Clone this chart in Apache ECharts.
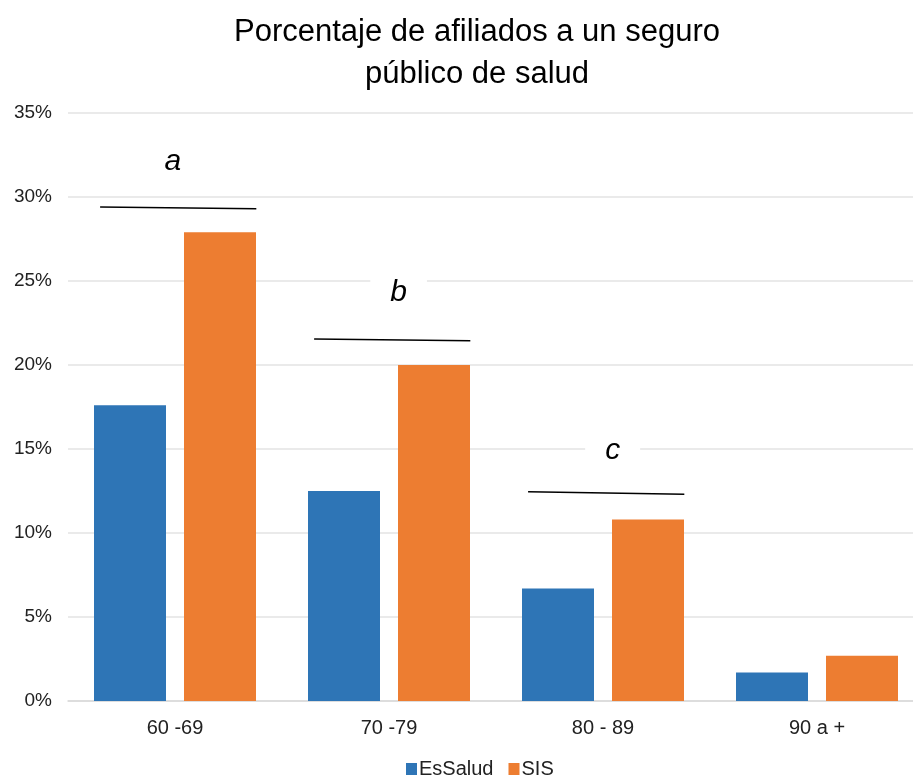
<!DOCTYPE html>
<html><head><meta charset="utf-8">
<script src="https://cdn.jsdelivr.net/npm/echarts@6/dist/echarts.min.js"></script>
<style>html,body{margin:0;padding:0;background:#fff;overflow:hidden}#c{width:924px;height:778px}</style>
</head><body><div id="c"></div>
<script>
var categories = ['60 -69', '70 -79', '80 - 89', '90 a +'];
var esSalud = [17.6, 12.5, 6.7, 1.7];
var sis = [27.9, 20.0, 10.8, 2.7];
var yTicks = [0, 5, 10, 15, 20, 25, 30, 35];
// annotation: category index, left-end value, right-end value, letter, letter value
var annLetters = ['a', 'b', 'c'];
var annCat = [0, 1, 2];
var annLeft = [29.4, 21.55, 12.45];
var annRight = [29.3, 21.45, 12.3];
var annLetterY = [32.1, 24.3, 14.9];

var annData = annCat.map(function (c, i) { return [c, annLeft[i], annRight[i], annLetterY[i], i]; });

var chart = echarts.init(document.getElementById('c'));
chart.setOption({
  animation: false,
  textStyle: { fontFamily: 'Liberation Sans, Arial, sans-serif' },
  title: {
    text: 'Porcentaje de afiliados a un seguro\npúblico de salud',
    left: 472, textAlign: 'center', top: 6,
    textStyle: { fontSize: 31, fontWeight: 'normal', color: '#000', lineHeight: 42, fontFamily: 'Liberation Sans, Arial, sans-serif' }
  },
  grid: { left: 68, top: 113, right: 0, height: 588 },
  legend: {
    top: 754, left: 401, itemWidth: 11, itemHeight: 12, itemGap: 15,
    icon: 'rect',
    textStyle: { fontSize: 20, color: '#222', padding: [0, 0, 0, -3] },
    data: ['EsSalud', 'SIS']
  },
  xAxis: {
    type: 'category', data: categories,
    axisLine: { lineStyle: { color: '#d9d9d9', width: 1.5 } },
    axisTick: { show: false },
    axisLabel: { fontSize: 20, color: '#222', margin: 17 }
  },
  yAxis: {
    type: 'value', min: 0, max: 35, interval: 5,
    axisLabel: { formatter: '{value}%', fontSize: 19, color: '#222', margin: 16 },
    splitLine: { lineStyle: { color: '#e3e3e3', width: 1.5 } },
    axisLine: { show: false }, axisTick: { show: false }
  },
  series: [
    { name: 'EsSalud', type: 'bar', data: esSalud, barWidth: 72, barGap: '25%', itemStyle: { color: '#2E75B6' } },
    { name: 'SIS', type: 'bar', data: sis, barWidth: 72, itemStyle: { color: '#ED7D31' } },
    {
      type: 'custom', data: annData, z: 10, silent: true,
      renderItem: function (params, api) {
        var c = api.value(0);
        var band = api.size([1, 0])[0];
        var pL = api.coord([c, api.value(1)]);
        var pR = api.coord([c, api.value(2)]);
        var pT = api.coord([c, api.value(3)]);
        var letter = annLetters[api.value(4)];
        return {
          type: 'group',
          children: [
            { type: 'line', shape: { x1: pL[0] - band * 0.35, y1: pL[1], x2: pR[0] + band * 0.38, y2: pR[1] },
              style: { stroke: '#000', lineWidth: 1.5 } },
            { type: 'text', x: pT[0] + (api.value(4) > 0 ? band * 0.045 : -band * 0.01), y: pT[1],
              style: { text: letter, fontSize: 30, fontStyle: 'italic', fill: '#000',
                fontFamily: 'Liberation Sans, Arial, sans-serif',
                align: 'center', verticalAlign: 'middle', backgroundColor: '#fff', padding: [4, 20] } }
          ]
        };
      }
    }
  ]
});
</script></body></html>
